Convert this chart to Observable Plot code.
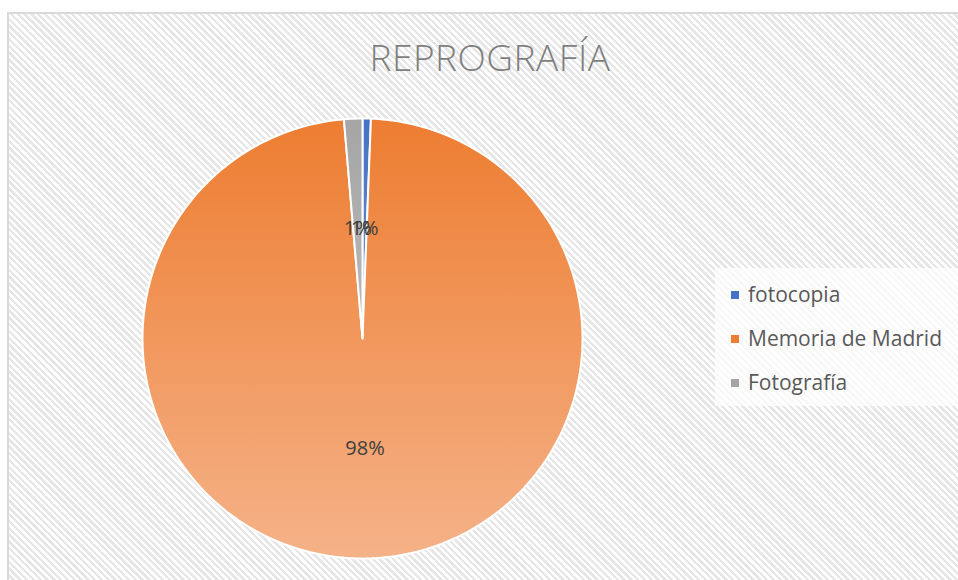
<!DOCTYPE html>
<html>
<head>
<meta charset="utf-8">
<script src="https://cdn.jsdelivr.net/npm/d3@7"></script>
<script src="https://cdn.jsdelivr.net/npm/@observablehq/plot@0.6"></script>
<style>
  html, body { margin: 0; padding: 0; background: #fff; }
  #wrap { position: relative; width: 958px; height: 580px; overflow: hidden; background: #fff; }
  #frame {
    position: absolute; left: 7px; top: 12px; width: 960px; height: 580px;
    border-left: 2px solid #d9d9d9; border-top: 2px solid #d9d9d9;
    background: repeating-linear-gradient(45deg, #ffffff 0px, #ffffff 2.4px, #e6e6e6 2.4px, #e6e6e6 4.8px);
  }
  #title {
    position: absolute; left: 0; width: 980px; top: 31px; text-align: center;
    font-family: "Open Sans", sans-serif; font-weight: 300; font-size: 37px; color: #7f7f7f;
    letter-spacing: 0.5px;
  }
  #chart { position: absolute; left: 0; top: 0; }
  #legend {
    position: absolute; left: 715px; top: 268px; width: 250px; height: 138px;
    background: rgba(255,255,255,0.7);
    font-family: "Open Sans", sans-serif; font-size: 21px; color: #595959;
  }
  .item { position: absolute; left: 16px; height: 26px; line-height: 26px; white-space: nowrap; }
  .sw { display: inline-block; width: 8px; height: 8px; margin-right: 9px; vertical-align: middle; position: relative; top: -1px; }
</style>
</head>
<body>
<div id="wrap">
  <div id="frame"></div>
  <div id="title">REPROGRAFÍA</div>
  <div id="chart"></div>
  <div id="legend"></div>
</div>
<script>
const categories = ["fotocopia", "Memoria de Madrid", "Fotografía"];
const values = [5, 800, 11];
const sliceColors = ["#4472C4", "#ED7D31", "#A5A5A5"];
const sliceFills = ["url(#gBlue)", "url(#gOrange)", "url(#gGray)"];

const total = d3.sum(values);
const pie = d3.pie().sort(null).value(d => d.value)(categories.map((c, i) => ({category: c, value: values[i], i})));

// build polygon outlines (unit radius) from the pie angles
const slices = pie.map(p => {
  const pts = [{x: 0, y: 0}];
  const n = Math.max(4, Math.ceil((p.endAngle - p.startAngle) / (Math.PI / 180)));
  for (let k = 0; k <= n; k++) {
    const a = p.startAngle + (p.endAngle - p.startAngle) * k / n;
    pts.push({x: Math.sin(a), y: Math.cos(a)});
  }
  pts.push({x: 0, y: 0});
  return {i: p.data.i, pts};
});

const labels = pie.map(p => {
  const a = (p.startAngle + p.endAngle) / 2;
  return {x: 0.5 * Math.sin(a), y: 0.5 * Math.cos(a), text: Math.round(p.data.value / total * 100) + "%"};
});

const chart = Plot.plot({
  width: 958, height: 580,
  margin: 0,
  x: {domain: [-1, 1], range: [142, 582], axis: null},
  y: {domain: [-1, 1], range: [558, 118], axis: null},
  style: {background: "transparent", overflow: "visible"},
  marks: [
    ...slices.map(s => Plot.line(s.pts, {x: "x", y: "y", fill: sliceFills[s.i], stroke: "white", strokeWidth: 2, strokeLinejoin: "round", curve: "linear"})),
    Plot.text(labels, {x: "x", y: "y", text: "text", fontSize: 20, fill: "#404040", fontFamily: "Open Sans, sans-serif"})
  ]
});

const svgns = "http://www.w3.org/2000/svg";
const defs = document.createElementNS(svgns, "defs");
function grad(id, c1, c2) {
  const g = document.createElementNS(svgns, "linearGradient");
  g.setAttribute("id", id);
  g.setAttribute("gradientUnits", "userSpaceOnUse");
  g.setAttribute("x1", 0); g.setAttribute("x2", 0);
  g.setAttribute("y1", 118); g.setAttribute("y2", 558);
  const s1 = document.createElementNS(svgns, "stop"); s1.setAttribute("offset", "0"); s1.setAttribute("stop-color", c1);
  const s2 = document.createElementNS(svgns, "stop"); s2.setAttribute("offset", "1"); s2.setAttribute("stop-color", c2);
  g.appendChild(s1); g.appendChild(s2);
  defs.appendChild(g);
}
grad("gOrange", "#ED7D31", "#F5B288");
grad("gBlue", "#4472C4", "#9DB3E0");
grad("gGray", "#A5A5A5", "#CFCFCF");
chart.insertBefore(defs, chart.firstChild);
document.getElementById("chart").appendChild(chart);

const legend = document.getElementById("legend");
categories.forEach((c, i) => {
  const d = document.createElement("div");
  d.className = "item";
  d.style.top = (13 + i * 44) + "px";
  d.innerHTML = `<span class="sw" style="background:${sliceColors[i]}"></span>${c}`;
  legend.appendChild(d);
});
</script>
</body>
</html>
